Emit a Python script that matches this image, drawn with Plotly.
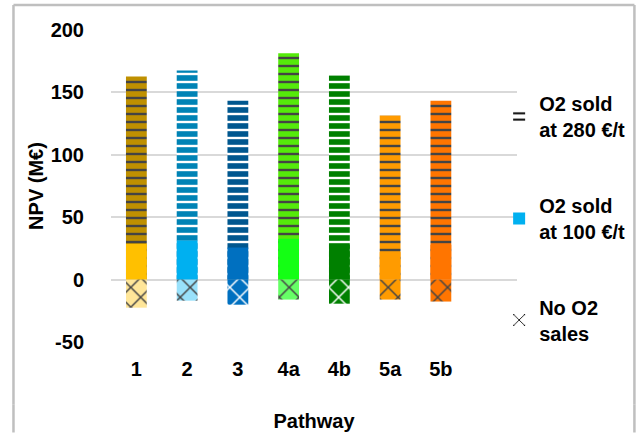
import plotly.graph_objects as go

# Net present value per pathway (M€) for three oxygen by-product scenarios
pathways = ["1", "2", "3", "4a", "4b", "5a", "5b"]
npv_o2_280 = [162.7, 167.5, 143.4, 181.4, 163.5, 131.4, 143.4]
npv_o2_100 = [28.6, 31.3, 25.7, 32.7, 28.0, 22.0, 28.0]
npv_no_o2 = [-22.5, -16.9, -20.1, -16.0, -19.3, -16.0, -17.6]

y_ticks = [-50, 0, 50, 100, 150, 200]
y_tick_text = ["-50", "0", "50", "100", "150", "200"]

colors_280 = ["#BF9000", "#0083B5", "#00578F", "#55EA0A", "#008000", "#FF9B00", "#FF7500"]
colors_100 = ["#FFC000", "#00B0F0", "#0070C0", "#14FF14", "#008000", "#FF9B00", "#FF7500"]
colors_no = ["#FFE699", "#99E1FB", "#0070C0", "#66FF66", "#008000", "#FF9B00", "#FF7500"]

FONT = "Liberation Sans, Arial, sans-serif"
x_pos = list(range(len(pathways)))
BAR_W = 0.41

stripes = dict(shape="-", size=8, solidity=0.3, fgcolor="black",
               fgopacity=1, fillmode="overlay")
cross = dict(shape="x", size=14, solidity=0.2, fgcolor="black",
             fgopacity=1, fillmode="overlay")

fig = go.Figure()

# Bars overlap: the 280 €/t value behind, 100 €/t in front, no-sales below zero
fig.add_trace(go.Bar(x=x_pos, y=npv_o2_280, width=BAR_W, showlegend=False,
                     marker=dict(color=colors_280, line_width=0, pattern=stripes)))
fig.add_trace(go.Bar(x=x_pos, y=npv_o2_100, width=BAR_W, showlegend=False,
                     marker=dict(color=colors_100, line_width=0)))
fig.add_trace(go.Bar(x=x_pos, y=npv_no_o2, width=BAR_W, showlegend=False,
                     marker=dict(color=colors_no, line_width=0, pattern=cross)))

# Legend entries with neutral swatches
fig.add_trace(go.Bar(x=[None], y=[None], name="O2 sold<br>at 280 €/t", legend="legend",
                     marker=dict(color="white", line_width=0, pattern=stripes)))
fig.add_trace(go.Bar(x=[None], y=[None], name="O2 sold<br>at 100 €/t", legend="legend2",
                     marker=dict(color="#00B0F0", line_width=0)))
fig.add_trace(go.Bar(x=[None], y=[None], name="No O2<br>sales", legend="legend3",
                     marker=dict(color="white", line_width=0, pattern=cross)))

legend_common = dict(x=0.956, xanchor="left", yanchor="middle",
                     bgcolor="rgba(0,0,0,0)", borderwidth=0,
                     font=dict(family=FONT, size=20, color="black", weight="bold"))

# Outer chart border (left, top and right edges; bottom lies off-page)
frame_color = "#BFBFBF"
frame = [
    dict(type="line", xref="paper", yref="paper", x0=-0.2402, x1=-0.2402, y0=-0.2, y1=1.08),
    dict(type="line", xref="paper", yref="paper", x0=-0.2402, x1=-0.2402, y0=-0.29, y1=-0.2),
    dict(type="line", xref="paper", yref="paper", x0=-0.2402, x1=1.2892, y0=1.08, y1=1.08),
    dict(type="line", xref="paper", yref="paper", x0=1.2892, x1=1.2892, y0=-0.2, y1=1.08),
    dict(type="line", xref="paper", yref="paper", x0=1.2892, x1=1.2892, y0=-0.29, y1=-0.2),
]
for s in frame:
    s["line"] = dict(color=frame_color, width=2.5)

fig.update_layout(
    width=642, height=433,
    margin=dict(l=111, r=123, t=30, b=91),
    paper_bgcolor="white", plot_bgcolor="white",
    barmode="overlay",
    font=dict(family=FONT, size=20, color="black", weight="bold"),
    legend=dict(y=0.7228, **legend_common),
    legend2=dict(y=0.3958, **legend_common),
    legend3=dict(y=0.0705, **legend_common),
    xaxis=dict(
        range=[-0.5, 7.5], tickvals=x_pos, ticktext=pathways,
        showgrid=False, zeroline=False, showline=False, ticks="",
        ticklabelstandoff=13, automargin=False,
        title=dict(text="Pathway", standoff=34,
                   font=dict(family=FONT, size=20, weight="bold")),
    ),
    yaxis=dict(
        range=[-50, 200], tickvals=y_ticks, ticktext=y_tick_text,
        showgrid=True, gridcolor="#D9D9D9", gridwidth=1.5,
        zeroline=False, showline=False, ticks="",
        ticklabelstandoff=26, automargin=False,
        title=dict(text="NPV (M€)", standoff=1,
                   font=dict(family=FONT, size=20, weight="bold")),
    ),
    shapes=frame,
)

fig.write_html("out.html")
